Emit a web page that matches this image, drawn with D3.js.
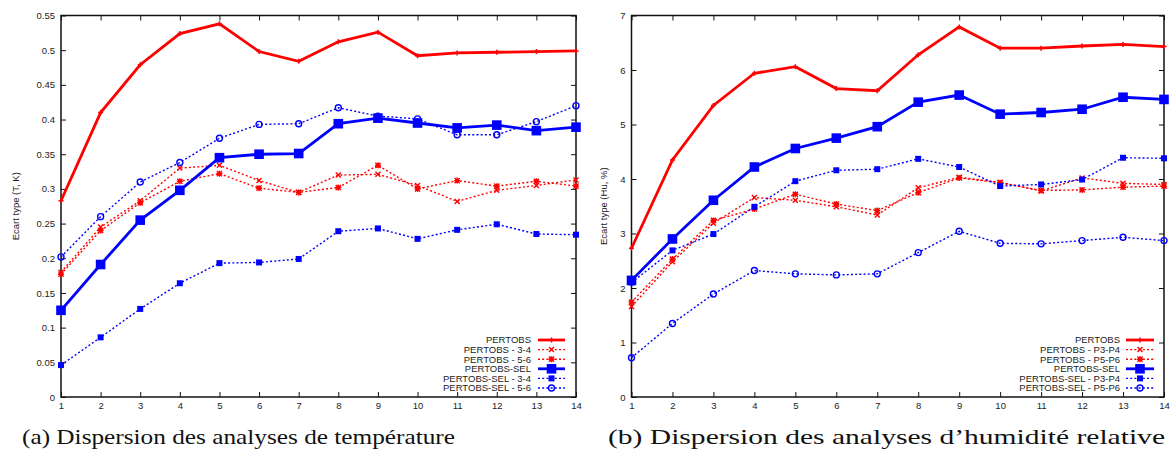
<!DOCTYPE html>
<html>
<head>
<meta charset="utf-8">
<script src="https://cdn.jsdelivr.net/npm/d3@7"></script>
<style>
  html, body { margin: 0; padding: 0; background: #fff; }
  svg { display: block; }
  .tick text { font-family: "Liberation Sans", Arial, sans-serif; font-size: 9.5px; fill: #222; }
</style>
</head>
<body>
<svg id="chart" width="1173" height="455"></svg>
<script>
// ---------- DATA ----------
const steps = [1,2,3,4,5,6,7,8,9,10,11,12,13,14];

// (a) temperature (T, K)
const tPertobs     = [0.283,0.410,0.479,0.524,0.538,0.498,0.484,0.512,0.526,0.492,0.496,0.497,0.498,0.499];
const tPertobs34   = [0.180,0.245,0.283,0.330,0.334,0.312,0.295,0.320,0.321,0.305,0.282,0.298,0.305,0.313];
const tPertobs56   = [0.177,0.240,0.280,0.311,0.322,0.301,0.295,0.302,0.334,0.300,0.312,0.304,0.311,0.304];
const tSel         = [0.125,0.191,0.255,0.298,0.345,0.350,0.351,0.394,0.402,0.395,0.388,0.392,0.384,0.389];
const tSel34       = [0.046,0.086,0.127,0.164,0.193,0.194,0.199,0.239,0.243,0.228,0.241,0.249,0.235,0.234];
const tSel56       = [0.202,0.260,0.310,0.338,0.373,0.393,0.394,0.417,0.405,0.401,0.378,0.378,0.397,0.420];

// (b) relative humidity (Hu, %)
const hPertobs     = [2.73,4.35,5.35,5.94,6.06,5.66,5.62,6.28,6.79,6.40,6.40,6.44,6.47,6.43];
const hPertobs34   = [1.66,2.48,3.19,3.66,3.61,3.49,3.34,3.84,4.03,3.94,3.78,4.02,3.92,3.90];
const hPertobs56   = [1.74,2.53,3.24,3.45,3.72,3.54,3.42,3.75,4.02,3.93,3.79,3.80,3.85,3.87];
const hSel         = [2.14,2.90,3.61,4.22,4.56,4.75,4.96,5.41,5.54,5.19,5.22,5.28,5.50,5.46];
const hSel34       = [2.10,2.69,2.99,3.49,3.96,4.16,4.18,4.37,4.22,3.87,3.90,3.99,4.39,4.38];
const hSel56       = [0.72,1.35,1.89,2.32,2.26,2.24,2.26,2.65,3.04,2.82,2.81,2.87,2.93,2.87];

// tick labels
const yTicksT = [0,0.05,0.1,0.15,0.2,0.25,0.3,0.35,0.4,0.45,0.5,0.55];
const yTicksH = [0,1,2,3,4,5,6,7];

const legendT = ["PERTOBS","PERTOBS - 3-4","PERTOBS - 5-6","PERTOBS-SEL","PERTOBS-SEL - 3-4","PERTOBS-SEL - 5-6"];
const legendH = ["PERTOBS","PERTOBS - P3-P4","PERTOBS - P5-P6","PERTOBS-SEL","PERTOBS-SEL - P3-P4","PERTOBS-SEL - P5-P6"];

const yLabelT = "Ecart type (T, K)";
const yLabelH = "Ecart type (Hu, %)";
const captionA = "(a) Dispersion des analyses de température";
const captionB = "(b) Dispersion des analyses d\u2019humidité relative";

// ---------- STYLES ----------
const RED = "#ff0000", BLUE = "#0000ff";
const styles = [
  {color: RED,  width: 2.8, dash: null,    marker: "plus"},
  {color: RED,  width: 1.4, dash: "2,2.2", marker: "cross"},
  {color: RED,  width: 1.4, dash: "2,2.2", marker: "star"},
  {color: BLUE, width: 2.8, dash: null,    marker: "bigsquare"},
  {color: BLUE, width: 1.4, dash: "2,2.2", marker: "square"},
  {color: BLUE, width: 1.4, dash: "2,2.2", marker: "circle"}
];

const svg = d3.select("#chart");

function drawMarker(g, type, x, y, color) {
  if (type === "plus") {
    g.append("path").attr("d", `M${x-2.5},${y}H${x+2.5}M${x},${y-2.5}V${y+2.5}`)
      .attr("stroke", color).attr("stroke-width", 1.5).attr("fill", "none");
  } else if (type === "cross") {
    g.append("path").attr("d", `M${x-2.5},${y-2.5}L${x+2.5},${y+2.5}M${x-2.5},${y+2.5}L${x+2.5},${y-2.5}`)
      .attr("stroke", color).attr("stroke-width", 1.4).attr("fill", "none");
  } else if (type === "star") {
    g.append("path").attr("d", `M${x-2.6},${y-2.6}L${x+2.6},${y+2.6}M${x-2.6},${y+2.6}L${x+2.6},${y-2.6}M${x-3},${y}H${x+3}M${x},${y-3}V${y+3}`)
      .attr("stroke", color).attr("stroke-width", 1.4).attr("fill", "none");
    g.append("rect").attr("x", x-1.8).attr("y", y-1.8).attr("width", 3.6).attr("height", 3.6).attr("fill", color);
  } else if (type === "bigsquare") {
    g.append("rect").attr("x", x-4.8).attr("y", y-4.8).attr("width", 9.6).attr("height", 9.6).attr("fill", color);
  } else if (type === "square") {
    g.append("rect").attr("x", x-3).attr("y", y-3).attr("width", 6).attr("height", 6).attr("fill", color);
  } else if (type === "circle") {
    g.append("circle").attr("cx", x).attr("cy", y).attr("r", 3)
      .attr("fill", "none").attr("stroke", color).attr("stroke-width", 1.4);
  }
}

function panel(opts) {
  const {x0, x1, y0, y1, ymax, yTicks, series, legend, yLabel, yLabelX, caption, capX, capW, legTextX, legLineX0, legLineX1, yFmt} = opts;
  const x = d3.scaleLinear().domain([1,14]).range([x0, x1]);
  const y = d3.scaleLinear().domain([0, ymax]).range([y1, y0]);
  const g = svg.append("g");

  // axes with inward ticks
  const axB = g.append("g").attr("transform", `translate(0,${y1})`)
    .call(d3.axisBottom(x).tickValues(steps).tickSize(-5).tickPadding(5).tickFormat(d3.format("d")));
  const axT = g.append("g").attr("transform", `translate(0,${y0})`)
    .call(d3.axisTop(x).tickValues(steps).tickSize(-5).tickFormat(""));
  const axL = g.append("g").attr("transform", `translate(${x0},0)`)
    .call(d3.axisLeft(y).tickValues(yTicks).tickSize(-5).tickPadding(6).tickFormat(yFmt));
  const axR = g.append("g").attr("transform", `translate(${x1},0)`)
    .call(d3.axisRight(y).tickValues(yTicks).tickSize(-5).tickFormat(""));
  [axB, axT, axL, axR].forEach(a => {
    a.select(".domain").remove();
    a.selectAll(".tick line").attr("stroke", "#111").attr("stroke-width", 1);
  });

  // border
  g.append("rect").attr("x", x0).attr("y", y0).attr("width", x1 - x0).attr("height", y1 - y0)
    .attr("fill", "none").attr("stroke", "#111").attr("stroke-width", 1.5);

  // series
  const line = d3.line().x((d,i) => x(steps[i])).y(d => y(d));
  series.forEach((vals, k) => {
    const s = styles[k];
    const sg = g.append("g");
    sg.append("path").datum(vals).attr("d", line)
      .attr("fill", "none").attr("stroke", s.color).attr("stroke-width", s.width)
      .attr("stroke-dasharray", s.dash).attr("stroke-linejoin", "miter");
    vals.forEach((v, i) => drawMarker(sg, s.marker, x(steps[i]), y(v), s.color));
  });

  // legend
  const ly0 = 340, ldy = 9.6;
  legend.forEach((name, k) => {
    const s = styles[k];
    const yy = ly0 + k * ldy;
    g.append("text").attr("x", legTextX).attr("y", yy).attr("dy", "0.35em")
      .attr("text-anchor", "end")
      .style("font-family", "'Liberation Sans', Arial, sans-serif").style("font-size", "9.5px").style("fill", "#222")
      .text(name);
    g.append("line").attr("x1", legLineX0).attr("x2", legLineX1).attr("y1", yy).attr("y2", yy)
      .attr("stroke", s.color).attr("stroke-width", s.width).attr("stroke-dasharray", s.dash);
    drawMarker(g, s.marker, (legLineX0 + legLineX1) / 2, yy, s.color);
  });

  // y label
  g.append("text")
    .attr("transform", `translate(${yLabelX},${(y0 + y1) / 2}) rotate(-90)`)
    .attr("text-anchor", "middle").attr("dy", "0.35em")
    .style("font-family", "'Liberation Sans', Arial, sans-serif").style("font-size", "9.5px").style("fill", "#222")
    .text(yLabel);

  // caption
  svg.append("text").attr("x", capX).attr("y", 444)
    .attr("textLength", capW).attr("lengthAdjust", "spacingAndGlyphs")
    .style("font-family", "'Liberation Serif', 'DejaVu Serif', serif").style("font-size", "21px").style("fill", "#111")
    .text(caption);
}

panel({
  x0: 61, x1: 576, y0: 15.5, y1: 397, ymax: 0.55, yTicks: yTicksT,
  series: [tPertobs, tPertobs34, tPertobs56, tSel, tSel34, tSel56],
  legend: legendT, yLabel: yLabelT, yLabelX: 16,
  caption: captionA, capX: 22, capW: 433,
  legTextX: 531, legLineX0: 538, legLineX1: 565,
  yFmt: d => String(d)
});

panel({
  x0: 631.5, x1: 1164, y0: 15.5, y1: 397, ymax: 7, yTicks: yTicksH,
  series: [hPertobs, hPertobs34, hPertobs56, hSel, hSel34, hSel56],
  legend: legendH, yLabel: yLabelH, yLabelX: 604,
  caption: captionB, capX: 608, capW: 557,
  legTextX: 1120, legLineX0: 1126, legLineX1: 1154,
  yFmt: d => String(d)
});
</script>
</body>
</html>
